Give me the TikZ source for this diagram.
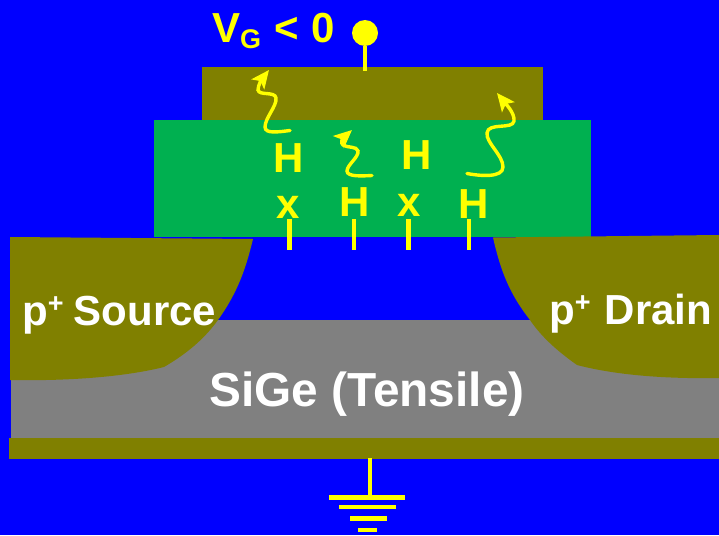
\documentclass[tikz,border=0pt]{standalone}
\usepackage{fontspec}
\setmainfont{Liberation Sans}
\usetikzlibrary{arrows.meta}
\definecolor{bg}{HTML}{0000FF}
\definecolor{olivec}{HTML}{808000}
\definecolor{greenc}{HTML}{00B050}
\definecolor{grayc}{HTML}{808080}
\definecolor{yel}{HTML}{FFFF00}
\tikzset{
  ylab/.style={text=yel,font=\bfseries\fontsize{42}{42}\selectfont,inner sep=0pt,anchor=center},
  wlab/.style={text=white,font=\bfseries\fontsize{42}{42}\selectfont,inner sep=0pt,anchor=base west},
  lead/.style={draw=yel,line width=4pt},
  wavy/.style={draw=yel,line width=3.4pt,line cap=round,-{Stealth[length=18pt,width=16pt,inset=4pt]}},
  ticklead/.style={draw=yel,line width=4.2pt},
  gnd/.style={draw=yel,line width=4.4pt}
}
\begin{document}
\begin{tikzpicture}[x=1pt,y=-1pt]
\useasboundingbox (0,0) rectangle (719,535);
\fill[bg] (0,0) rectangle (719,535);
% layers
\fill[grayc] (11,320) rectangle (719,438);
\fill[olivec] (9,438) rectangle (719,459);
\fill[greenc] (154,120) rectangle (591,237);
\fill[olivec] (202,67) rectangle (543,120);
% source / drain
\fill[olivec] (10,237) -- (253,239)
  .. controls (246,268) and (238,292) .. (218,320)
  .. controls (205,338) and (188,353) .. (164,367)
  .. controls (120,378) and (60,381) .. (10,380) -- cycle;
\fill[olivec] (719,235) -- (493,237.5)
  .. controls (500,268) and (508,292) .. (530,320)
  .. controls (542,338) and (560,353) .. (577,365)
  .. controls (615,375) and (665,379) .. (719,378) -- cycle;
% texts
\node[ylab,anchor=base west] (vg) at (212,42) {V\raisebox{-6.5pt}{\fontsize{27}{27}\selectfont G} \hspace{0.04em}<\hspace{0.02em} 0};
\node[ylab] (h1) at (288.5,158) {H};
\node[ylab] (h2) at (355,202) {H};
\node[ylab] (h3) at (416.5,155) {H};
\node[ylab] (h4) at (473.5,204) {H};
\node[ylab] (x1) at (288.5,207) {x};
\node[ylab] (x2) at (409,205) {x};
\node[wlab] (src) at (22,325) {p\raisebox{13pt}{\fontsize{27}{27}\selectfont +}\hspace{0.24em}Source};
\node[wlab] (drn) at (549,324) {p\raisebox{13pt}{\fontsize{27}{27}\selectfont +}\hspace{0.34em}Drain};
\node[text=white,font=\bfseries\fontsize{47.8}{48}\selectfont,inner sep=0pt,anchor=base] (sige) at (367,406) {SiGe (Tensile)};
% gate contact
\node[circle,fill=yel,minimum size=26pt,inner sep=0pt] (gc) at (365,33) {};
\coordinate (gatein) at (365,71);
\draw[lead] (gc) -- (gatein);
% interface ticks
\coordinate (t1a) at (289.5,219); \coordinate (t1b) at (289.5,250);
\coordinate (t2a) at (354,219); \coordinate (t2b) at (354,250);
\coordinate (t3a) at (408.5,219); \coordinate (t3b) at (408.5,250);
\coordinate (t4a) at (469,219); \coordinate (t4b) at (469,250);
\draw[ticklead] (t1a) -- (t1b);
\draw[ticklead] (t2a) -- (t2b);
\draw[ticklead] (t3a) -- (t3b);
\draw[ticklead] (t4a) -- (t4b);
% wavy arrows
\coordinate (w1s) at (290,130.5); \coordinate (w1e) at (269,70);
\draw[wavy] (w1s) .. controls (278,132) and (265,134) .. (265,127)
  .. controls (265,118) and (277,106) .. (276,98)
  .. controls (275,91) and (259,96) .. (258,90)
  .. controls (258,85) and (262,79) .. (w1e);
\coordinate (w2s) at (372,175.5); \coordinate (w2e) at (352,130);
\draw[wavy] (w2s) .. controls (362,176) and (347,177) .. (347,171)
  .. controls (347,165) and (359,157) .. (358,151)
  .. controls (357,146) and (347,148) .. (343,145)
  .. controls (340,143) and (343,138) .. (w2e);
\coordinate (w3s) at (467,173.5); \coordinate (w3e) at (497,93);
\draw[wavy] (w3s) .. controls (480,176) and (503,178) .. (503,167)
  .. controls (503,155) and (486,143) .. (487,133)
  .. controls (488,122) and (513,130) .. (514,121)
  .. controls (515,113) and (505,103) .. (w3e);
% ground
\coordinate (g0) at (370,458); \coordinate (g1) at (370,497);
\draw[lead] (g0) -- (g1);
\coordinate (ga) at (329,497.5); \coordinate (gb) at (405,497.5);
\coordinate (gc1) at (339,507); \coordinate (gd) at (396,507);
\coordinate (ge) at (350,518.5); \coordinate (gf) at (387,518.5);
\coordinate (gg) at (358,530); \coordinate (gh) at (377,530);
\draw[gnd] (ga) -- (gb);
\draw[gnd] (gc1) -- (gd);
\draw[gnd] (ge) -- (gf);
\draw[gnd] (gg) -- (gh);
\end{tikzpicture}
\end{document}
